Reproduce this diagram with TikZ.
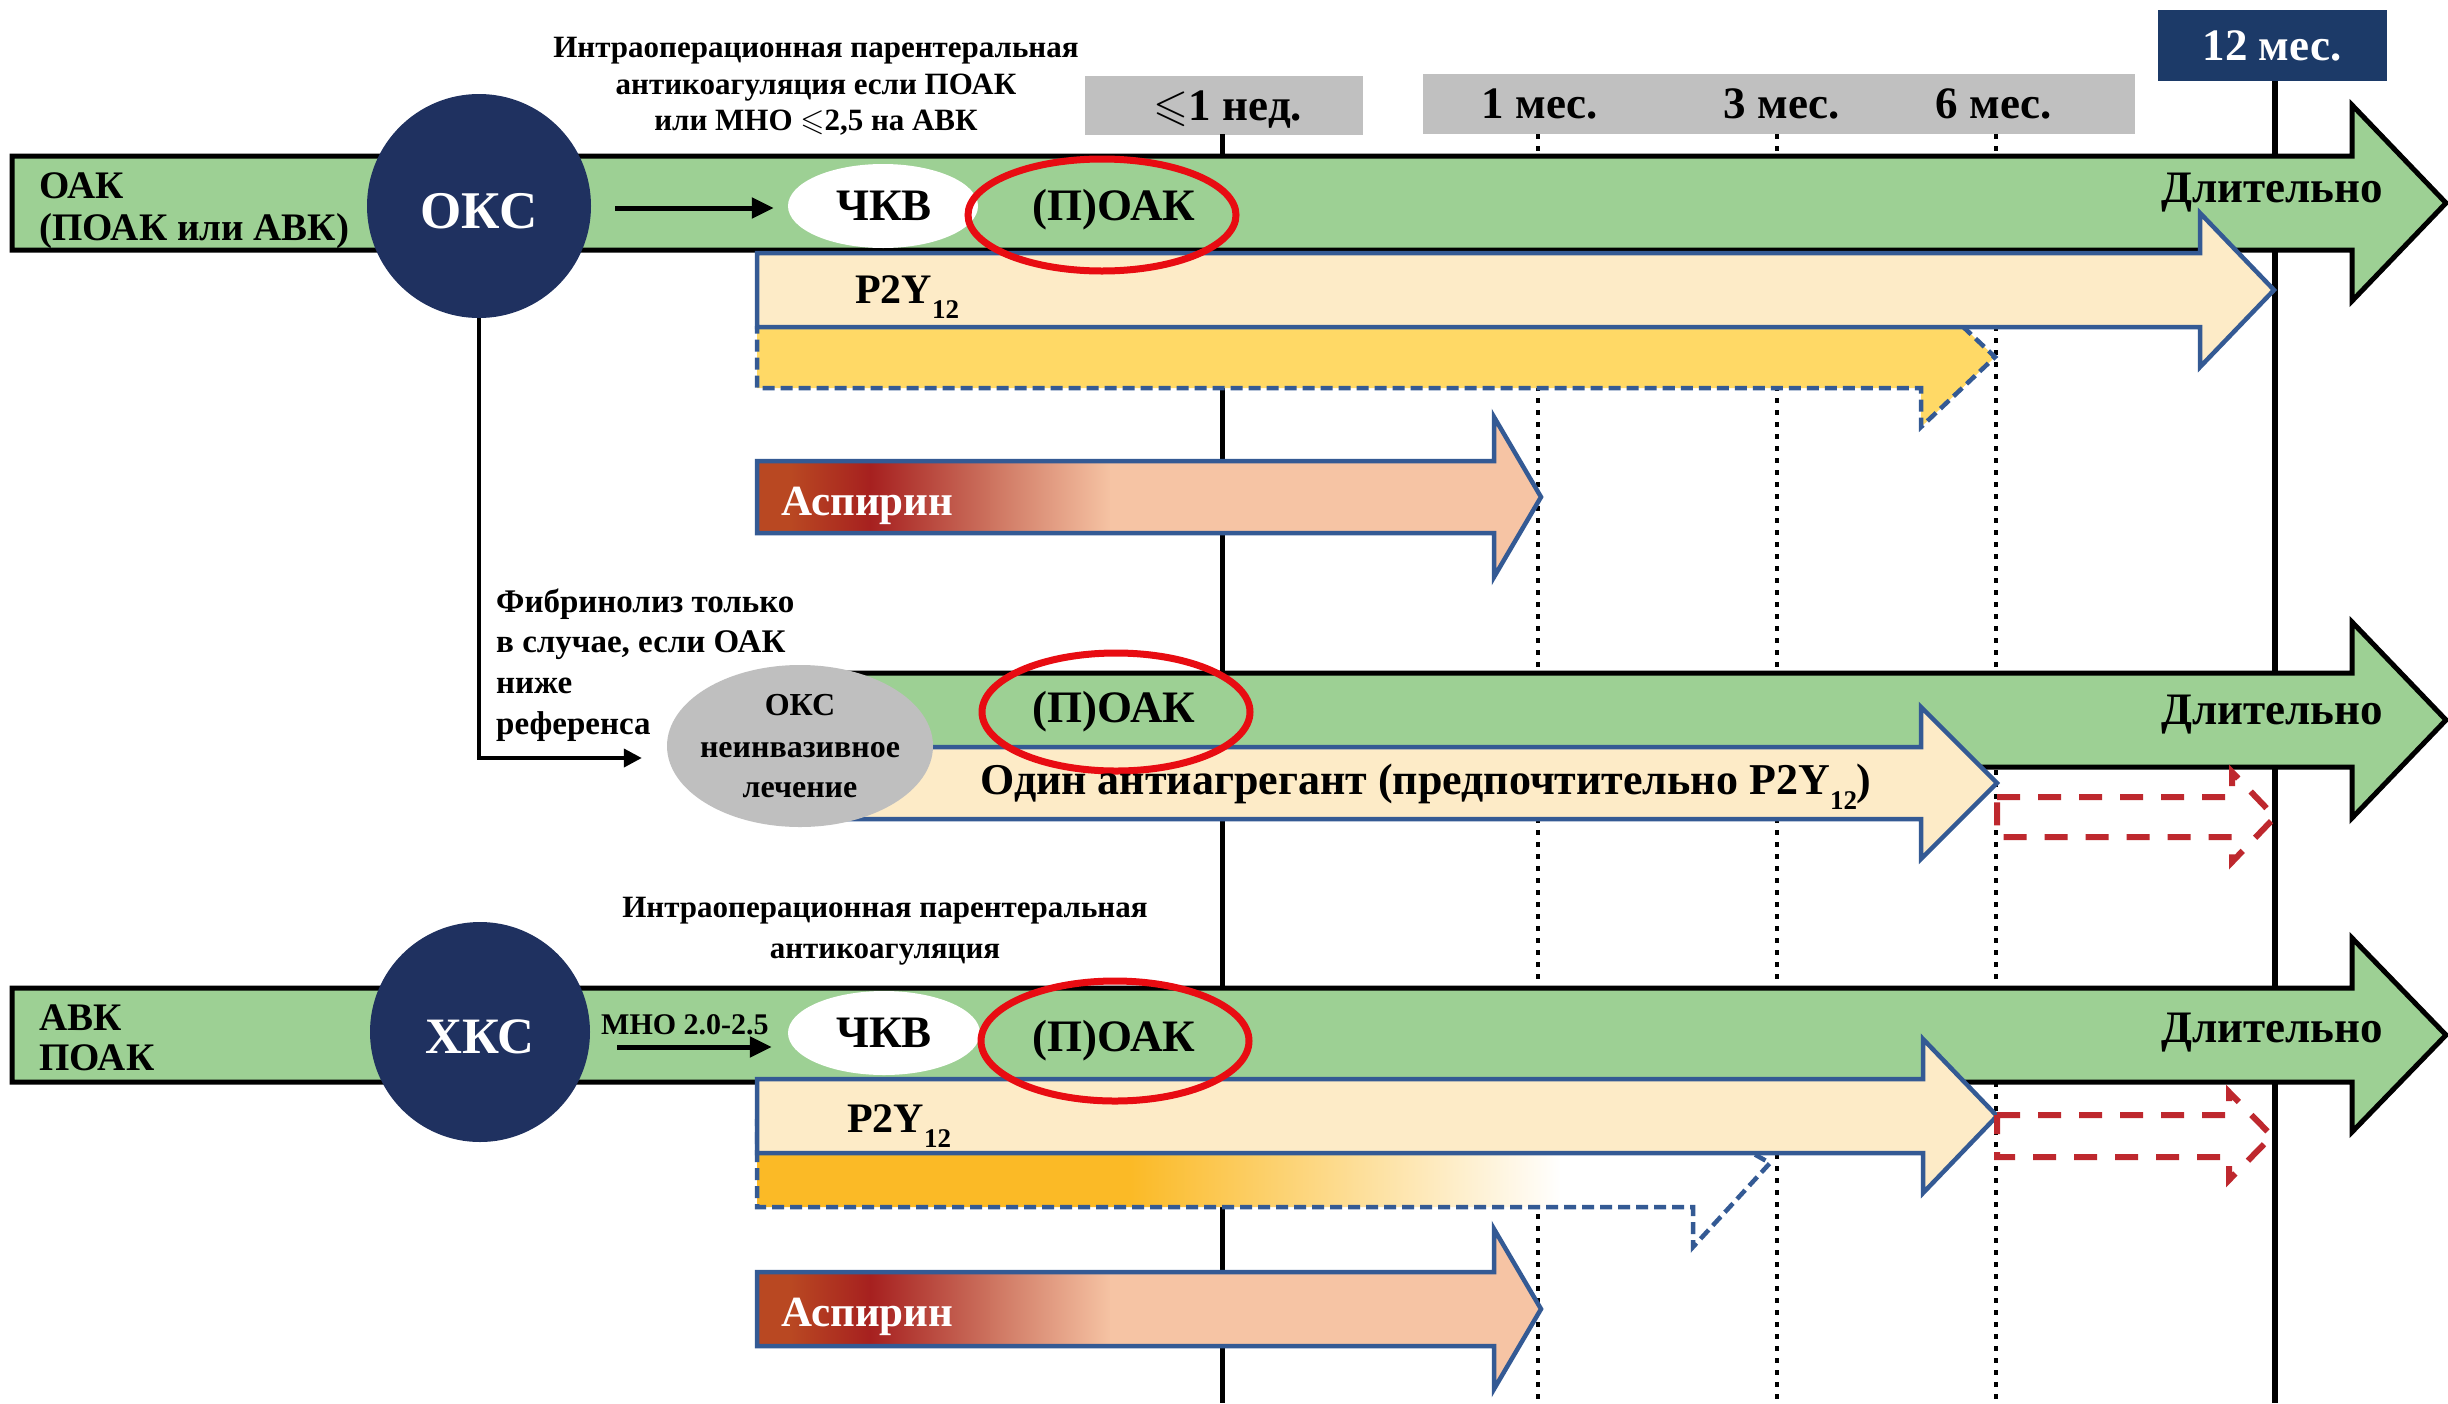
\documentclass[tikz,border=0pt]{standalone}
\usepackage{fontspec}
\usepackage{amssymb}
\setmainfont{Liberation Serif}
\usetikzlibrary{arrows.meta,shapes.geometric,calc}
\definecolor{grn}{RGB}{157,208,148}
\definecolor{navy}{RGB}{31,49,96}
\definecolor{navybox}{RGB}{28,58,104}
\definecolor{boxgray}{RGB}{192,192,192}
\definecolor{ellgray}{RGB}{191,191,191}
\definecolor{cream}{RGB}{253,235,199}
\definecolor{bblue}{RGB}{52,90,148}
\definecolor{gold}{RGB}{255,217,102}
\definecolor{goldb}{RGB}{251,186,38}
\definecolor{redc}{RGB}{232,12,18}
\definecolor{redd}{RGB}{190,40,46}
\definecolor{peach}{RGB}{246,196,164}
\definecolor{rust}{RGB}{185,72,34}
\definecolor{crimson}{RGB}{166,32,31}
\definecolor{mauve}{RGB}{205,115,95}
\newcommand\fsz[1]{\fontsize{#1}{#1}\selectfont}
\newcommand\arw[6]{(#1,#2-#3) -- (#4,#2-#3) -- (#4,#2-#6) -- (#5,#2) -- (#4,#2+#6) -- (#4,#2+#3) -- (#1,#2+#3) -- cycle}
\newcommand\yelb{(757,1119) -- (1693,1119) -- (1693,1120) -- (1770,1163) -- (1693,1247) -- (1693,1207) -- (757,1207) -- cycle}
\newcommand\subtw{\raisebox{-15pt}{\fsz{27}12}}
\tikzset{
  t/.style={inner sep=0pt, anchor=base, execute at begin node=\bfseries},
  tw/.style={t, anchor=base west},
  grnarr/.style={fill=grn, draw=black, line width=5pt, line join=miter},
  crarr/.style={fill=cream, draw=bblue, line width=4.5pt, line join=miter},
  yelarr/.style={fill=gold, draw=bblue, line width=4.5pt, dash pattern=on 12pt off 6pt, line join=miter},
  bluedash/.style={draw=bblue, line width=4.5pt, dash pattern=on 12pt off 6pt, line join=miter},
  arrbord/.style={draw=bblue, line width=4.5pt, line join=miter},
  reddash/.style={draw=redd, line width=6pt, dash pattern=on 23pt off 18pt, line join=miter},
  redell/.style={ellipse, draw=redc, line width=7pt, inner sep=0pt},
  dotl/.style={line width=4.5pt, dash pattern=on 5pt off 7pt},
  solidl/.style={line width=5pt},
  conn/.style={line width=5pt, -{Triangle[length=22pt,width=20pt]}},
  conn2/.style={line width=4pt, -{Triangle[length=18pt,width=18pt]}},
  hbox/.style={rectangle, fill=boxgray, inner sep=0pt},
}
\begin{document}
\begin{tikzpicture}[x=1pt,y=-1pt]
\useasboundingbox[fill=white] (0,0) rectangle (2448,1403);

% ---------- timeline header ----------
\node[hbox, minimum width=278pt, minimum height=59pt] (hb1) at (1224,105) {};
\node[hbox, minimum width=712pt, minimum height=60pt] (hb2) at (1779,104) {};
\node[rectangle, fill=navybox, inner sep=0pt, minimum width=229pt, minimum height=71pt] (hb3) at (2272,45.5) {};

\draw[solidl] (1222,134) -- (1222,1403);
\draw[dotl] (1538,134) -- (1538,1403);
\draw[dotl] (1777,134) -- (1777,1403);
\draw[dotl] (1996,134) -- (1996,1403);
\draw[line width=6pt] (2275,81) -- (2275,1403);

\node[t, font=\fsz{45}] (wk) at (1228,120) {$\leqslant$1 нед.};
\node[t, font=\fsz{45}] (m1) at (1540,118) {1 мес.};
\node[t, font=\fsz{45}] (m3) at (1782,118) {3 мес.};
\node[t, font=\fsz{45}] (m6) at (1994,118) {6 мес.};
\node[t, font=\fsz{45}, text=white] (m12) at (2272,60) {12 мес.};

% ---------- top section (ОКС) ----------
\node[t, font=\fsz{31}] (n1a) at (816,57) {Интраоперационная парентеральная};
\node[t, font=\fsz{31}] (n1b) at (816,94) {антикоагуляция если ПОАК};
\node[t, font=\fsz{31}] (n1c) at (816,130) {или МНО $\leqslant$2,5 на АВК};

\draw[grnarr] \arw{12}{203}{47}{2352}{2446}{98};
\node[tw, font=\fsz{39}] (oak1) at (39,198) {ОАК};
\node[tw, font=\fsz{39}] (oak2) at (39,240) {(ПОАК или АВК)};

\node[circle, fill=navy, minimum size=224pt, inner sep=0pt] (oks) at (479,206) {};
\node[t, font=\fsz{53}, text=white] (okst) at (479,228) {ОКС};
\node[ellipse, fill=white, minimum width=190pt, minimum height=84pt, inner sep=0pt] (pci1) at (883,206) {};
\node[t, font=\fsz{45}] (pci1t) at (884,220) {ЧКВ};
\draw[conn] ($(oks.east)+(24,2)$) -- ($(pci1.west)+(-14,2)$);

\draw[yelarr] \arw{757}{357}{31}{1921}{1995}{70};
\draw[crarr] \arw{757}{290}{37}{2200}{2274}{77};
\node[tw, font=\fsz{42}] (p2y1) at (855,303) {P2Y\subtw};

\begin{scope}
  \clip \arw{757}{497}{36}{1494}{1541}{80};
  \fill[rust] (750,400) rectangle (792,600);
  \shade[left color=rust, right color=crimson] (790,400) rectangle (872,600);
  \shade[left color=crimson, right color=mauve] (870,400) rectangle (992,600);
  \shade[left color=mauve, right color=peach] (990,400) rectangle (1112,600);
  \fill[peach] (1110,400) rectangle (1560,600);
\end{scope}
\draw[arrbord] \arw{757}{497}{36}{1494}{1541}{80};
\node[tw, font=\fsz{43}, text=white] (asp1) at (781,515) {Аспирин};

\node[redell, minimum width=268pt, minimum height=112pt] (r1) at (1102,215) {};
\node[t, font=\fsz{45}] (poak1) at (1114,220) {(П)ОАК};
\node[t, font=\fsz{45}] (dl1) at (2272,202) {Длительно};

% ---------- middle section ----------
\draw[grnarr] \arw{800}{720}{47}{2352}{2446}{98};
\draw[crarr] \arw{800}{783}{36}{1921}{1997}{76};
\draw[reddash] \arw{1997}{817}{20}{2232}{2275}{45};
\node[ellipse, fill=ellgray, minimum width=266pt, minimum height=162pt, inner sep=0pt] (nei) at (800,746) {};
\node[t, font=\fsz{32}] (neia) at (800,715) {ОКС};
\node[t, font=\fsz{32}] (neib) at (800,757) {неинвазивное};
\node[t, font=\fsz{32}] (neic) at (800,797) {лечение};
\draw[conn2] (oks.south) |- ($(nei.west)+(-25,12)$);
\node[tw, font=\fsz{33}] (fa) at (496,612) {Фибринолиз только};
\node[tw, font=\fsz{33}] (fb) at (496,652) {в случае, если ОАК};
\node[tw, font=\fsz{33}] (fc) at (496,693) {ниже};
\node[tw, font=\fsz{33}] (fd) at (496,734) {референса};

\node[redell, minimum width=268pt, minimum height=118pt] (r2) at (1116,712) {};
\node[t, font=\fsz{45}] (poak2) at (1114,722) {(П)ОАК};
\node[t, font=\fsz{45}] (dl2) at (2272,724) {Длительно};
\node[t, font=\fsz{44}] (one) at (1426,794) {Один антиагрегант (предпочтительно P2Y\subtw)};

% ---------- bottom section (ХКС) ----------
\node[t, font=\fsz{31}] (n2a) at (885,917) {Интраоперационная парентеральная};
\node[t, font=\fsz{31}] (n2b) at (885,958) {антикоагуляция};

\draw[grnarr] \arw{12}{1035}{47}{2352}{2446}{97};
\node[tw, font=\fsz{39}] (avk) at (39,1030) {АВК};
\node[tw, font=\fsz{39}] (poak) at (39,1070) {ПОАК};
\node[circle, fill=navy, minimum size=220pt, inner sep=0pt] (xks) at (480,1032) {};
\node[t, font=\fsz{51}, text=white] (xkst) at (480,1053) {ХКС};
\node[ellipse, fill=white, minimum width=192pt, minimum height=84pt, inner sep=0pt] (pci2) at (884,1033) {};
\node[t, font=\fsz{45}] (pci2t) at (884,1047) {ЧКВ};
\draw[conn] ($(xks.east)+(27,15)$) -- ($(pci2.west)+(-16,14)$);
\node[tw, font=\fsz{30}] (mno) at (601,1034) {МНО 2.0-2.5};

\begin{scope}
  \clip \yelb;
  \fill[goldb] (750,1050) rectangle (1132,1260);
  \shade[left color=goldb, right color=white] (1130,1050) rectangle (1562,1260);
  \fill[white] (1560,1050) rectangle (1790,1260);
\end{scope}
\draw[bluedash] \yelb;
\draw[crarr] \arw{757}{1116}{37}{1923}{1997}{77};
\node[tw, font=\fsz{42}] (p2y2) at (847,1132) {P2Y\subtw};

\begin{scope}
  \clip \arw{757}{1309}{37}{1494}{1541}{80};
  \fill[rust] (750,1200) rectangle (792,1420);
  \shade[left color=rust, right color=crimson] (790,1200) rectangle (872,1420);
  \shade[left color=crimson, right color=mauve] (870,1200) rectangle (992,1420);
  \shade[left color=mauve, right color=peach] (990,1200) rectangle (1112,1420);
  \fill[peach] (1110,1200) rectangle (1560,1420);
\end{scope}
\draw[arrbord] \arw{757}{1309}{37}{1494}{1541}{80};
\node[tw, font=\fsz{43}, text=white] (asp2) at (781,1326) {Аспирин};

\draw[reddash] \arw{1997}{1136}{21}{2229}{2272}{44};
\node[redell, minimum width=268pt, minimum height=120pt] (r3) at (1115,1041) {};
\node[t, font=\fsz{45}] (poak3) at (1114,1051) {(П)ОАК};
\node[t, font=\fsz{45}] (dl3) at (2272,1042) {Длительно};
\end{tikzpicture}
\end{document}
